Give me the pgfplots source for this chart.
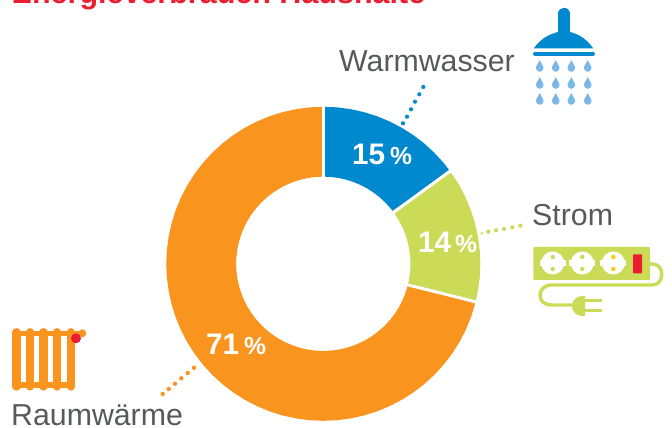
\documentclass[border=0pt]{standalone}
\usepackage{pgfplots}
\pgfplotsset{compat=1.18}
\usepackage{fontspec}
\setmainfont{Liberation Sans}
\definecolor{cblue}{HTML}{0089CF}
\definecolor{cdrop}{HTML}{7AB8E8}
\definecolor{cgreen}{HTML}{CBDB57}
\definecolor{corange}{HTML}{F9951F}
\definecolor{cred}{HTML}{ED1C2E}
\definecolor{cgray}{HTML}{58595B}
\definecolor{cyel}{HTML}{FFCB05}
\begin{document}
\begin{tikzpicture}[x=1pt,y=1pt]
\path[use as bounding box,clip] (0,0) rectangle (672,428);
\begin{axis}[at={(0,0)},anchor=south west,width=672pt,height=428pt,scale only axis,hide axis,clip=false,
  xmin=-323.3,xmax=348.7,ymin=-164.2,ymax=263.8]
% ring: angle, mid radius; shares 15 / 14 / 71 %
\addplot[draw=cblue,line width=69.8pt,no markers,data cs=polar] coordinates {
 (90,122.1)(85,122.1)(80,122.1)(75,122.1)(70,122.1)(65,122.1)(60,122.1)(55,122.1)(50,122.1)(45,122.1)(40,122.1)(36.2,122.1)};
\addplot[draw=cgreen,line width=69.8pt,no markers,data cs=polar] coordinates {
 (36.2,122.1)(30,122.1)(25,122.1)(20,122.1)(15,122.1)(10,122.1)(5,122.1)(0,122.1)(-5,122.1)(-10,122.1)(-14,122.1)};
\addplot[draw=corange,line width=69.8pt,no markers,data cs=polar] coordinates {
 (-14,122.1)(-20,122.1)(-25,122.1)(-30,122.1)(-35,122.1)(-40,122.1)(-45,122.1)(-50,122.1)(-55,122.1)(-60,122.1)(-65,122.1)(-70,122.1)(-75,122.1)(-80,122.1)(-85,122.1)(-90,122.1)(-95,122.1)(-100,122.1)(-105,122.1)(-110,122.1)(-115,122.1)(-120,122.1)(-125,122.1)(-130,122.1)(-135,122.1)(-140,122.1)(-145,122.1)(-150,122.1)(-155,122.1)(-160,122.1)(-165,122.1)(-170,122.1)(-175,122.1)(-180,122.1)(-185,122.1)(-190,122.1)(-195,122.1)(-200,122.1)(-205,122.1)(-210,122.1)(-215,122.1)(-220,122.1)(-225,122.1)(-230,122.1)(-235,122.1)(-240,122.1)(-245,122.1)(-250,122.1)(-255,122.1)(-260,122.1)(-265,122.1)(-270,122.1)};
\addplot[draw=white,line width=3pt,no markers,data cs=polar] coordinates {(90,85)(90,160)};
\addplot[draw=white,line width=3pt,no markers,data cs=polar] coordinates {(36.2,85)(36.2,160)};
\addplot[draw=white,line width=3pt,no markers,data cs=polar] coordinates {(-14,85)(-14,160)};
\end{axis}
\begin{scope}[x=1pt,y=-1pt,shift={(0,-428)}]
\def\lab#1#2#3#4#5#6{\node[anchor=base west,inner sep=0pt,text=#5,font={\fontsize{#3}{#3}\selectfont#6}] at (#1,#2) {#4};}
% title, cut by the top edge
\lab{11.5}{4}{30.5}{Energieverbrauch Haushalte}{cred}{\bfseries}
\lab{339}{72}{30.3}{Warmwasser}{cgray}{}
\lab{532}{226}{30.3}{Strom}{cgray}{}
\lab{11}{426}{30.3}{Raumwärme}{cgray}{}
\lab{352}{165}{29.7}{15}{white}{\bfseries}
\lab{390}{165}{24.7}{\%}{white}{\bfseries}
\lab{418}{253}{29.7}{14}{white}{\bfseries}
\lab{455}{253}{24.7}{\%}{white}{\bfseries}
\lab{206}{355}{29.7}{71}{white}{\bfseries}
\lab{244}{355}{24.7}{\%}{white}{\bfseries}
% leaders
\foreach \x/\y in {423.3/87,419.3/94.3,415/101.7,411/109.3,407/116.7,403/123.3}{\fill[cblue] (\x,\y) circle (2.1);}
\foreach \x/\y in {520.3/225.7,512.3/227.3,504/229,496/230.3,488.3/231.7}{\fill[cgreen] (\x,\y) circle (2.1);}
\fill[cgreen] (481.7,233.3) circle (1.3);
\foreach \x/\y in {194/367.7,187.7/373,181.3/378.3,175/383.7,168.7/389,162.7/394}{\fill[corange] (\x,\y) circle (2.2);}
% shower
\draw[cblue,line width=11.4pt,line cap=round] (564,13.5)--(564,34);
\fill[cblue] (533.7,48.5) .. controls (541,38) and (550,34) .. (558,32) -- (570,32) .. controls (578,34) and (586,38) .. (593.3,48.5) -- cycle;
\draw[cblue,line width=3.9pt,line cap=round] (535,53.6)--(593,53.6);
\foreach \y in {66,83,99}{\foreach \x in {539.7,555.7,571.3,587.7}{
 \fill[cdrop,shift={(\x,\y)}] (0,-6) .. controls (0.8,-3) and (3.8,-0.5) .. (3.8,2) .. controls (3.8,4) and (2,5.8) .. (0,5.8) .. controls (-2,5.8) and (-3.8,4) .. (-3.8,2) .. controls (-3.8,-0.5) and (-0.8,-3) .. (0,-6) -- cycle;}}
% power strip
\fill[cgreen,rounded corners=1pt] (533.3,247) rectangle (650,280);
\foreach \x/\c in {552.7/cgreen,582.3/cgreen,613.3/cyel}{
 \fill[white] (\x,263) circle (11.5);
 \fill[white] (\x-13,260) rectangle (\x+13,266);
 \fill[\c] (\x,257) circle (2.2);
 \fill[\c] (\x,269) circle (2.2);}
\fill[cred,rounded corners=0.6pt] (633,254.3) rectangle (642,273.3);
\draw[cgreen,line width=3.4pt] (650,264) -- (652,264) .. controls (658,264) and (661.7,268) .. (661.7,274) .. controls (661.7,281) and (658,285) .. (652,285) -- (552,285) .. controls (544,285) and (540,290) .. (540,295) .. controls (540,301) and (544,305) .. (552,305) -- (574,305);
\fill[cgreen] (585,296) -- (582,296) .. controls (576,296) and (572,301) .. (572,306) .. controls (572,311) and (576,316) .. (582,316) -- (585,316) -- cycle;
\draw[cgreen,line width=3pt] (585,300.7)--(601.7,300.7) (585,311)--(601.7,311);
% radiator
\draw[corange,line width=8.3pt,line cap=round] \foreach \x in {16.5,29.9,43.5,57,70.8}{(\x,332.2)--(\x,386.5)};
\fill[corange] (16.5,331) rectangle (70.8,336);
\fill[corange] (16.5,382) rectangle (70.8,388);
\draw[corange,line width=4pt] (70,333.3)--(82,333.3);
\fill[corange] (82.3,333.3) circle (4);
\fill[cred] (76,338.3) circle (5);
\end{scope}
\end{tikzpicture}
\end{document}
